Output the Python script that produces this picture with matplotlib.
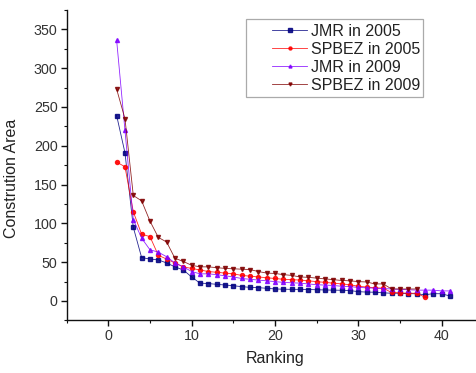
import matplotlib
matplotlib.use("Agg")
import matplotlib.pyplot as plt
from matplotlib.ticker import MultipleLocator
from matplotlib.patches import Rectangle

plt.rcParams['font.family'] = ['Liberation Sans', 'DejaVu Sans']
plt.rcParams['text.color'] = '#222222'
plt.rcParams['axes.labelcolor'] = '#222222'
plt.rcParams['xtick.labelcolor'] = '#333333'
plt.rcParams['ytick.labelcolor'] = '#333333'

rank_jmr05 = list(range(1, 42))
jmr05 = [239, 191, 95, 56, 54, 53, 49, 44, 40, 31, 23, 22.5, 21.5, 20.6, 19.7,
         18.5, 17.6, 17.2, 16.4, 15.5, 15.2, 15, 15, 14.8, 14.5, 14.2, 14, 13.8,
         13.5, 12, 11.5, 11.3, 10.5, 10, 10, 9.5, 9.3, 8, 9.5, 9.3, 6.5]

rank_spbez05 = list(range(1, 39))
spbez05 = [179, 173, 115, 86, 83, 59, 54, 49, 44, 42, 40, 38, 37, 36, 35,
           33, 32, 31, 30, 29, 28, 27.5, 27, 26, 25, 24, 23, 22, 21, 19,
           18, 17, 16.5, 11, 10.5, 10, 10, 5]

rank_jmr09 = list(range(1, 42))
jmr09 = [336, 220, 105, 81, 66, 63, 57, 49, 44, 38, 35, 35, 34, 32.5, 31,
         29, 28, 27, 26, 25, 24, 23.5, 23, 22, 21, 20.5, 20, 19, 18.5, 17.5,
         17, 16.5, 16, 15.5, 15, 14.5, 14, 14, 14, 13, 13]

rank_spbez09 = list(range(1, 38))
spbez09 = [273, 235, 136, 129, 103, 82, 76, 55, 51, 46, 44, 44, 43, 42, 41.5,
           41, 40.5, 38, 36, 35.5, 34, 33, 31, 30.5, 29.5, 28.5, 27.5, 26.5,
           26, 25, 24.5, 22, 22, 15.5, 15.5, 15.5, 15.5]

labels = ['JMR in 2005', 'SPBEZ in 2005', 'JMR in 2009', 'SPBEZ in 2009']
colors = ['#000080', '#ff0000', '#8000ff', '#800000']
markers = ['s', 'o', '^', 'v']

W, H = 477, 373
fig = plt.figure(figsize=(W / 100, H / 100), dpi=100)
ax_l, ax_r, ax_t, ax_b = 66.65, 483.2, 10.0, 320.4
ax = fig.add_axes([ax_l / W, (H - ax_b) / H, (ax_r - ax_l) / W, (ax_b - ax_t) / H])

series = [(rank_jmr05, jmr05), (rank_spbez05, spbez05),
          (rank_jmr09, jmr09), (rank_spbez09, spbez09)]
handles = []
for (xs, ys), lab, c, m in zip(series, labels, colors, markers):
    h, = ax.plot(xs, ys, color=c, lw=0.6, marker=m, ms=2.9, mec=c, mfc=c,
                 label=lab, alpha=0.85)
    handles.append(h)

ax.set_xlim(-5, 45)
ax.set_ylim(-25, 375)
ax.xaxis.set_minor_locator(MultipleLocator(5))
ax.yaxis.set_minor_locator(MultipleLocator(25))
ax.set_yticks([0, 50, 100, 150, 200, 250, 300, 350])
ax.set_xticks([0, 10, 20, 30, 40])
for s in ['top', 'right']:
    ax.spines[s].set_visible(False)
for s in ['left', 'bottom']:
    ax.spines[s].set_linewidth(1.0)
    ax.spines[s].set_color('#111111')
ax.tick_params(which='major', direction='out', length=4, width=1.0, labelsize=10.3, pad=2.5,
               color='#111111')
ax.tick_params(which='minor', direction='out', length=2.5, width=0.8, color='#111111')

ax.set_xlabel('Ranking', fontsize=11.5)
ax.set_ylabel('Constrution Area', fontsize=11.5)
ax.xaxis.set_label_coords(0.5, -0.1)
ax.yaxis.set_label_coords((19 - ax_l) / (ax_r - ax_l), (ax_b - 178) / (ax_b - ax_t))

fx = lambda px: (px - ax_l) / (ax_r - ax_l)
fy = lambda py: (ax_b - py) / (ax_b - ax_t)
ax.add_patch(Rectangle((fx(246), fy(97)), fx(423) - fx(246), fy(19) - fy(97),
                       transform=ax.transAxes, fill=False, ec='#aaaaaa', lw=0.9,
                       clip_on=False, zorder=5))
leg = ax.legend(handles=handles, loc='center left',
                bbox_to_anchor=(fx(272), fy(58.3)), frameon=False,
                fontsize=11.5, handlelength=2.2, handletextpad=0.25,
                borderpad=0, borderaxespad=0, labelspacing=0.18, numpoints=1,
                markerscale=0.75)

fig.savefig('out.png', dpi=100)
